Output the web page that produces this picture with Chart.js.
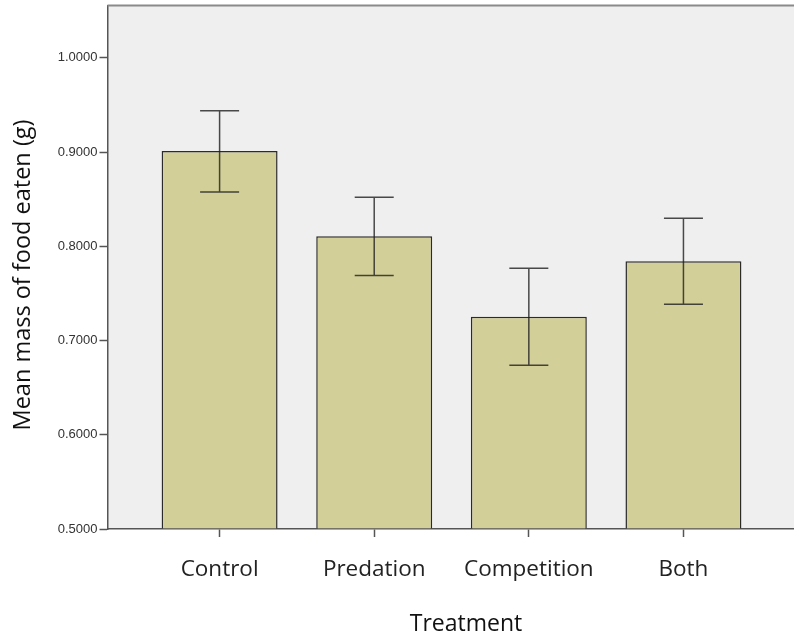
<!DOCTYPE html>
<html lang="en">
<head>
    <meta charset="UTF-8">
    <title>Mean mass of food eaten</title>
    <script src="https://cdn.jsdelivr.net/npm/chart.js"></script>
    <style>
        html, body {
            margin: 0;
            padding: 0;
            background: #fff;
            overflow: hidden;
        }
        #wrap {
            width: 794px;
            height: 640px;
        }
    </style>
</head>
<body>
    <div id="wrap"><canvas id="chart"></canvas></div>

    <script>
        // data
        const treatments = ['Control', 'Predation', 'Competition', 'Both'];
        const meanMass = [0.9010, 0.8107, 0.7251, 0.7842];
        const errUpper = [0.9437, 0.8521, 0.7768, 0.8298];
        const errLower = [0.8577, 0.7690, 0.6738, 0.7385];
        const yTicks = [0.5, 0.6, 0.7, 0.8, 0.9, 1.0];

        const Y_MIN = 0.5, Y_MAX = 1.0555;
        const labelFont = "'Open Sans', sans-serif";

        // panel background + top frame line + axis titles
        const panel = {
            id: 'panel',
            beforeDraw(chart) {
                const { ctx, chartArea: a } = chart;
                ctx.save();
                ctx.fillStyle = '#efefef';
                ctx.fillRect(a.left, a.top, a.right - a.left, a.bottom - a.top);
                ctx.restore();
            },
            afterDraw(chart) {
                const { ctx, chartArea: a } = chart;
                ctx.save();
                ctx.strokeStyle = '#8a8a8a';
                ctx.lineWidth = 2;
                ctx.beginPath();
                ctx.moveTo(a.left, a.top);
                ctx.lineTo(a.right, a.top);
                ctx.stroke();

                ctx.fillStyle = '#111';
                ctx.textAlign = 'center';
                ctx.textBaseline = 'middle';
                ctx.font = "23px " + labelFont;
                ctx.fillText('Treatment', 466, 624);
                ctx.translate(23, 275);
                ctx.rotate(-Math.PI / 2);
                ctx.font = "23.5px " + labelFont;
                ctx.fillText('Mean mass of food eaten (g)', 0, 0);
                ctx.restore();
            }
        };

        // error bars placed through the scales
        const errorBars = {
            id: 'errorBars',
            afterDatasetsDraw(chart) {
                const { ctx } = chart;
                const xs = chart.scales.x, ys = chart.scales.y;
                ctx.save();
                ctx.strokeStyle = 'rgba(30,30,30,0.8)';
                ctx.lineWidth = 1.5;
                treatments.forEach((t, i) => {
                    const x = xs.getPixelForValue(i);
                    const yHi = ys.getPixelForValue(errUpper[i]);
                    const yLo = ys.getPixelForValue(errLower[i]);
                    const cap = 19.5;
                    ctx.beginPath();
                    ctx.moveTo(x, yHi); ctx.lineTo(x, yLo);
                    ctx.moveTo(x - cap, yHi); ctx.lineTo(x + cap, yHi);
                    ctx.moveTo(x - cap, yLo); ctx.lineTo(x + cap, yLo);
                    ctx.stroke();
                });
                ctx.restore();
            }
        };

        const ctx = document.getElementById('chart').getContext('2d');
        new Chart(ctx, {
            type: 'bar',
            data: {
                datasets: [{
                    data: meanMass.map((v, i) => ({ x: i, y: v })),
                    backgroundColor: '#d3cf98',
                    borderColor: '#2b2b2b',
                    borderWidth: 1.5,
                    borderSkipped: 'bottom',
                    base: Y_MIN,
                    categoryPercentage: 1,
                    barPercentage: 0.75
                }]
            },
            options: {
                responsive: true,
                maintainAspectRatio: false,
                animation: false,
                layout: { padding: { top: 5.5, right: 0, left: 0, bottom: 0 } },
                plugins: {
                    legend: { display: false },
                    tooltip: { enabled: false }
                },
                scales: {
                    x: {
                        type: 'linear',
                        offset: false,
                        min: -0.725,
                        max: 3.715,
                        afterBuildTicks(s) { s.ticks = treatments.map((t, i) => ({ value: i })); },
                        afterFit(s) { s.height = 111; s.paddingLeft = 0; s.paddingRight = 0; },
                        ticks: {
                            callback: v => treatments[v],
                            font: { family: labelFont, size: 22.5 },
                            color: '#222',
                            padding: 19,
                            maxRotation: 0,
                            autoSkip: false
                        },
                        grid: {
                            offset: false,
                            drawOnChartArea: false,
                            tickLength: 8,
                            tickWidth: 1.5,
                            tickColor: '#555'
                        },
                        border: { color: '#555', width: 1.5 }
                    },
                    y: {
                        min: Y_MIN,
                        max: Y_MAX,
                        afterBuildTicks(s) { s.ticks = yTicks.map(v => ({ value: v })); },
                        afterFit(s) { s.width = 107.5; s.paddingTop = 0; s.paddingBottom = 0; },
                        ticks: {
                            callback: v => v.toFixed(4),
                            font: { family: "'Liberation Sans', Arial, sans-serif", size: 13 },
                            color: '#333',
                            padding: 2
                        },
                        grid: {
                            drawOnChartArea: false,
                            tickLength: 8,
                            tickWidth: 1.5,
                            tickColor: '#555'
                        },
                        border: { color: '#555', width: 1.5 }
                    }
                }
            },
            plugins: [panel, errorBars]
        });
    </script>
</body>
</html>
